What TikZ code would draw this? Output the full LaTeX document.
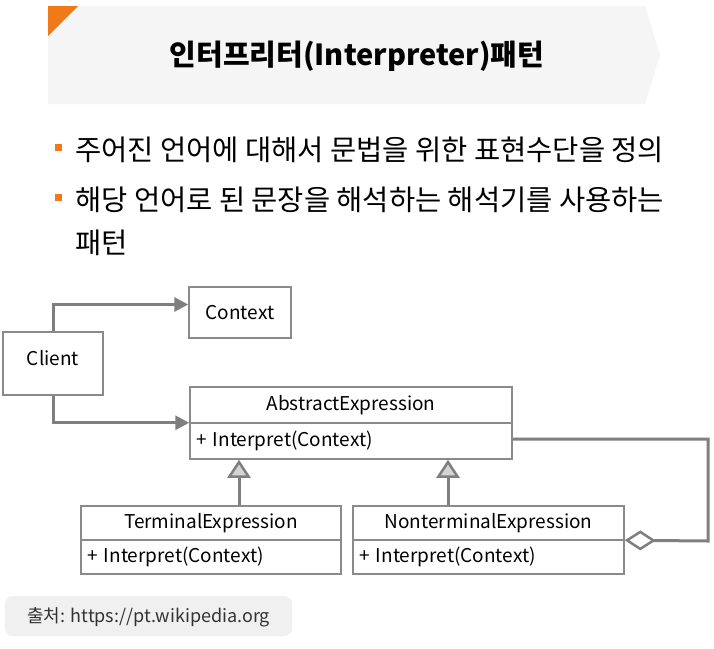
\documentclass[tikz,border=0pt]{standalone}
\usepackage{fontspec}
\setmainfont{Noto Sans CJK KR}
\usetikzlibrary{arrows.meta,calc}
\definecolor{bannerbg}{HTML}{F5F5F5}
\definecolor{accent}{HTML}{F07A18}
\definecolor{boxline}{HTML}{8A8A8A}
\definecolor{linkgray}{HTML}{7F7F7F}
\definecolor{tipfill}{HTML}{D4D4D4}
\definecolor{notebg}{HTML}{F0F0F0}
\begin{document}
\begin{tikzpicture}[x=1pt,y=-1pt,
  umlbox/.style={draw=boxline, line width=1.5pt, fill=white, inner sep=0pt,
    font=\fontsize{19}{21}\selectfont},
  link/.style={draw=linkgray, line width=3pt},
  assoc/.style={link, -{Triangle[length=14pt,width=14pt,fill=linkgray]}},
  inherit/.style={link, -{Triangle[length=18pt,width=23pt,fill=tipfill,line width=2.5pt]}},
  aggr/.style={link, -{Diamond[length=31pt,width=20pt,fill=white,line width=2.5pt]}},
  bulletsq/.style={fill=accent, draw=none, minimum size=7pt, inner sep=0pt},
  bullettext/.style={anchor=west, inner sep=0pt, font=\fontsize{28.5}{31}\selectfont}
]
\useasboundingbox (0,0) rectangle (714,648);
\fill[white] (0,0) rectangle (714,648);

% title banner
\fill[bannerbg] (48,6) -- (645,6) -- (660,55) -- (645,104) -- (48,104) -- cycle;
\fill[accent] (48,6) -- (78,6) -- (48,36) -- cycle;
\node[font=\fontsize{29}{33}\selectfont\bfseries, inner sep=0pt] (title) at (357,56)
  {인터프리터(Interpreter)패턴};

% bullet list
\node[bulletsq] (b1) at (58.5,147) {};
\node[bullettext] (t1) at (75,150) {주어진 언어에 대해서 문법을 위한 표현수단을 정의};
\node[bulletsq] (b2) at (58.5,197) {};
\node[bullettext] (t2) at (75,200) {해당 언어로 된 문장을 해석하는 해석기를 사용하는};
\node[bullettext] (t3) at (75,243) {패턴};

% classes
\node[umlbox, minimum width=102pt, minimum height=51pt] (context) at (240,312.5) {Context};
\node[umlbox, minimum width=100pt, minimum height=63pt, text height=13pt, text depth=9pt] (client) at (53,363.5) {Client};

\node[umlbox, minimum width=322pt, minimum height=36pt] (abs) at (351,405) {AbstractExpression};
\node[umlbox, minimum width=322pt, minimum height=36pt, text width=310pt, align=left] (absm) at (351,441) {+ Interpret(Context)};

\node[umlbox, minimum width=260pt, minimum height=34pt] (term) at (211,523) {TerminalExpression};
\node[umlbox, minimum width=260pt, minimum height=34pt, text width=248pt, align=left] (termm) at (211,557) {+ Interpret(Context)};

\node[umlbox, minimum width=271pt, minimum height=34pt] (nonterm) at (488.5,523) {NonterminalExpression};
\node[umlbox, minimum width=271pt, minimum height=34pt, text width=259pt, align=left] (nontermm) at (488.5,557) {+ Interpret(Context)};

% connectors
\draw[assoc] (client.north) |- ([yshift=8pt]context.west);
\draw[assoc] (client.south) |- ([yshift=1pt]abs.south west);
\draw[inherit] (term.north -| 239,0) -- (absm.south -| 239,0);
\draw[inherit] (nonterm.north -| 448,0) -- (absm.south -| 448,0);
\coordinate (loopA) at (708,439);
\coordinate (loopB) at (708,541);
\draw[aggr] ([yshift=2pt]absm.east) -- (loopA) -- (loopB) -- ([yshift=-1pt]nontermm.north east);

% source note
\node[fill=notebg, rounded corners=8pt, minimum width=287pt, minimum height=40pt,
  inner sep=0pt] (note) at (148.5,616) {};
\node[anchor=west, inner sep=0pt, text=black!80, font=\fontsize{18}{20}\selectfont] (notetext) at (27,617)
  {출처: https://pt.wikipedia.org};
\end{tikzpicture}
\end{document}
